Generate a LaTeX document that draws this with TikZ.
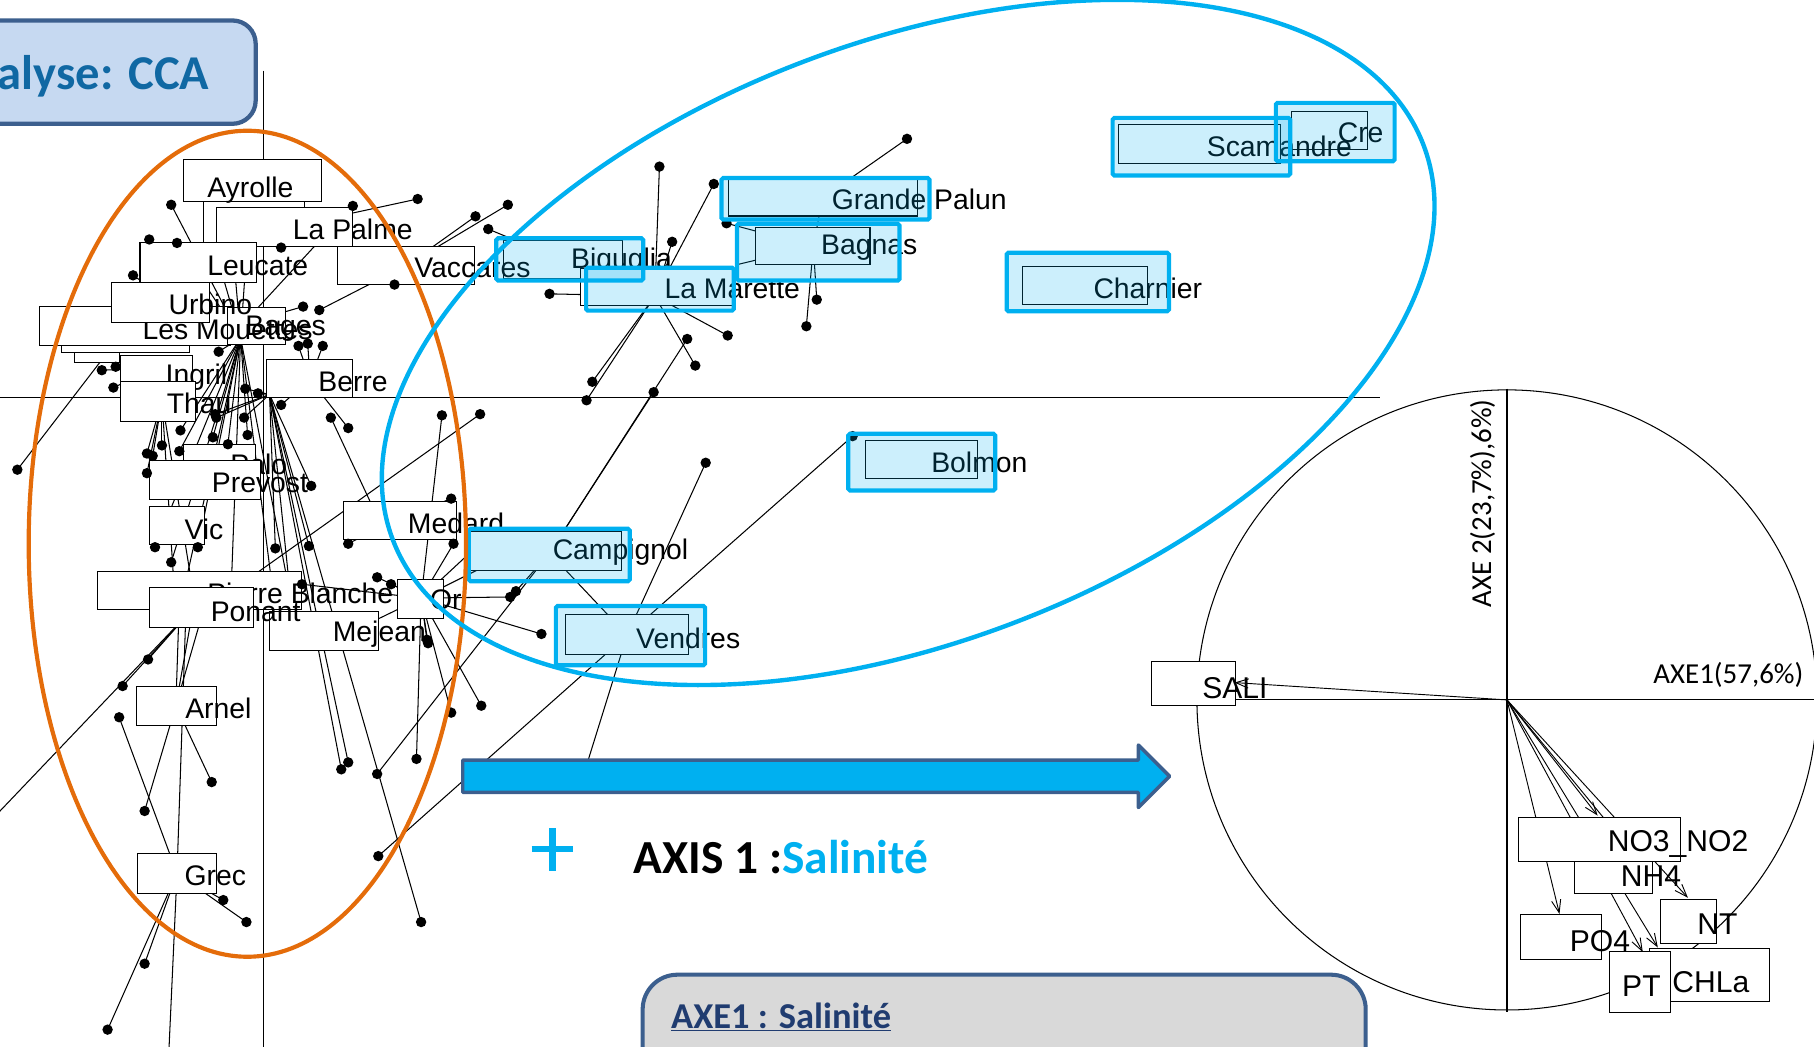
\documentclass[tikz,border=0pt]{standalone}
\usepackage{fontspec}
\usetikzlibrary{arrows.meta}
\newfontfamily\lsans{Liberation Sans}
\newfontfamily\carl{Carlito}
\definecolor{skyb}{HTML}{00B0F0}
\definecolor{orng}{HTML}{E46C0A}
\definecolor{frameblue}{HTML}{3C5F8E}
\definecolor{titlefill}{HTML}{C6D9F1}
\definecolor{titleink}{HTML}{1068A3}
\definecolor{panelgrey}{HTML}{D9D9D9}
\definecolor{navyink}{HTML}{203C70}

% label box, label text, highlight frame
\newcommand\lbx[4]{\draw[lbox] (#1,#2) rectangle (#3,#4);}
\newcommand\ltx[4]{\node[lbl] (#1) at (#2,#3) {#4};}
\newcommand\cbx[4]{\draw[lbox] (#1,#2) rectangle (#3,#4);}
\newcommand\ctx[4]{\node[cbl] (#1) at (#2,#3) {#4};}
\newcommand\hlt[4]{\draw[hilite] (#1,#2) rectangle (#3,#4);}

% site centre -> sample point (x,y)
\def\samplelist{C2/148/177, C2/129/207, C2/153/210, Urb/115/238, LP/361/172, LP/305/178, LP/243/214,
 Vac/411/187, Vac/439/177, Vac/341/246, Vac/276/268, Bag/262/265,
 Ber/258/299, Ber/266/297, Ber/279/299, Ber/301/370, Ber/243/350,
 C1/212/336, C1/223/340, C1/187/361, C1/186/358, C1/211/361, C1/269/420, C1/295/665, C1/301/659,
 C1/238/474, C1/267/472, C1/364/797,
 C2/189/304, C2/156/372, C2/184/378, C2/214/376, C2/197/384, C2/155/390, C2/134/473, C2/171/473, C2/148/486,
 Thau/127/392, Thau/132/394, Thau/140/385, Thau/127/409,
 LM/15/406, Ing/88/320, Ing/100/317, Ing/98/335, Pon/106/593, Pon/128/570,
 Arn/183/676, Arn/125/701, Grec/103/620, Grec/125/833, Grec/93/890, Grec/193/778, Grec/213/797,
 Med/286/361, Med/390/431, Med/301/470,
 Or/382/359, Or/392/470, Or/326/499, Or/338/505, Or/441/516, Or/468/548, Or/416/610, Or/390/616,
 Or/369/553, Or/370/556, Or/360/656, Or/261/505,
 Camp/594/293, Camp/565/339, Camp/446/511, Camp/326/669, Ven/610/400, Ven/737/377, Ven/327/740,
 LMar/512/330, LMar/507/346, LMar/601/316, LMar/629/290, LMar/475/254, LMar/570/144, LMar/617/159, LMar/581/209,
 Big/422/198, Bagn/706/259, Bagn/697/282, Bagn/628/193, GP/784/120, PB/415/358}
% segments whose far end lies under a label
\def\hiddenlist{Bag/280/204, C2/200/200, C2/215/190, C2/190/230, C2/160/505, C2/200/505, C2/235/505, C2/248/500,
 C1/250/505, Thau/150/500, Thau/165/500, Pon/-20/722, Grec/161/520, Grec/145/930,
 Arn/155/520, Arn/168/520, Arn/178/520, Or/300/548, Or/420/465, Or/430/484, Ven/505/668, Bagn/636/229}

\begin{document}
\begin{tikzpicture}[x=1pt,y=-1pt,
  link/.style={line width=0.9pt},
  lbox/.style={draw=black,line width=0.9pt,fill=white},
  lbl/.style={font=\lsans\fontsize{24.5}{29}\selectfont,inner sep=0pt,anchor=base west},
  cbl/.style={font=\lsans\fontsize{26}{30}\selectfont,inner sep=0pt,anchor=base west},
  axl/.style={font=\carl\fontsize{25}{30}\selectfont,inner sep=0pt,anchor=base west},
  hilite/.style={draw=skyb,line width=3.6pt,fill=skyb,fill opacity=0.2,rounded corners=1.5pt},
  vec/.style={line width=0.8pt,-{Straight Barb[length=11pt,width=8pt]}},
]
\useasboundingbox (0,0) rectangle (1568,905);
\clip (0,0) rectangle (1568,905);

% ---------- factorial plane: axes ----------
\draw[line width=0.9pt] (228,61) -- (228,905);
\draw[line width=0.9pt] (0,343.5) -- (1193,343.5);

% ---------- site centres ----------
\coordinate (hC1) at (233,341);
\coordinate (hC2) at (208,292);
\coordinate (hLP) at (250,196);
\coordinate (hVac) at (352,229);
\coordinate (hUrb) at (150,262);
\coordinate (hBag) at (210,280);
\coordinate (hLM) at (108,285);
\coordinate (hIng) at (135,318);
\coordinate (hThau) at (140,346);
\coordinate (hBer) at (268,328);
\coordinate (hPB) at (190,518);
\coordinate (hPon) at (165,528);
\coordinate (hArn) at (152,610);
\coordinate (hGrec) at (153,755);
\coordinate (hMed) at (330,455);
\coordinate (hOr) at (364,517);
\coordinate (hBig) at (487,225);
\coordinate (hLMar) at (566,256);
\coordinate (hGP) at (711,171);
\coordinate (hBagn) at (703,213);
\coordinate (hCamp) at (475,478);
\coordinate (hVen) at (542,549);

% ---------- star segments ----------
\foreach \h/\x/\y in \samplelist {\coordinate (s) at (\x,\y); \draw[link] (h\h) -- (s);}
\foreach \h/\x/\y in \hiddenlist {\coordinate (s) at (\x,\y); \draw[link] (h\h) -- (s);}
\draw[link] (hCamp) -- (hVen);
\draw[link] (hGP) -- (hBagn);

% ---------- site labels ----------
\lbx{176}{165}{263}{212}
\lbx{159}{138}{278}{174} \ltx{tAyr}{179}{171}{Ayrolle}
\lbx{187}{179}{305}{213} \ltx{tLP}{253}{207}{La Palme}
\lbx{435}{208}{538}{240.6} \ltx{tBig}{493.5}{232}{Biguglia}
\lbx{292}{213}{410}{246} \ltx{tVac}{358}{240}{Vaccares}
\lbx{121}{210}{222}{244} \ltx{tLeu}{179}{238.5}{Leucate}
\lbx{53}{299}{164}{305}
\lbx{64}{305}{103}{313}
\lbx{34}{265}{199}{298.5}
\lbx{197}{266}{247}{298}
\ltx{tLM}{123}{293.5}{Les Mouettes}
\ltx{tBag}{212}{290}{Bages}
\lbx{96}{244}{181}{279} \ltx{tUrb}{145.5}{272}{Urbino}
\lbx{104}{307}{166}{330} \ltx{tIng}{143}{332}{Ingril}
\lbx{104}{330}{169}{364} \ltx{tThau}{144}{357}{Thau}
\lbx{230.5}{311}{304.5}{344} \ltx{tBer}{275}{338.5}{Berre}
\lbx{159}{384}{221}{400} \ltx{tPalo}{199}{410}{Palo}
\lbx{129}{398}{225}{432} \ltx{tPrev}{183}{426}{Prevost}
\lbx{129}{438}{177}{471} \ltx{tVic}{159.3}{466}{Vic}
\lbx{233}{528.6}{327}{562.3} \ltx{tMej}{287.5}{554.6}{Mejean}
\lbx{84.4}{494}{260.2}{527} \ltx{tPB}{179}{521.4}{Pierre Blanche}
\lbx{129}{508}{219}{542} \ltx{tPon}{182}{537.3}{Ponant}
\lbx{296.7}{433.6}{394.7}{466.2} \ltx{tMed}{352.4}{461}{Medard}
\lbx{343.7}{500.7}{383.2}{534.4} \ltx{tOr}{371.6}{527.2}{Or}
\lbx{118}{593.5}{187}{627.5} \ltx{tArn}{160}{621}{Arnel}
\lbx{119}{738}{187}{772} \ltx{tGrec}{159.3}{765}{Grec}
\lbx{502.1}{232.4}{633.3}{264.2} \ltx{tLMar}{574.2}{257.8}{La Marette}
\lbx{629.6}{155}{792.9}{186.7} \ltx{tGP}{718.8}{181.5}{Grande Palun}
\lbx{653.4}{196.4}{752}{229} \ltx{tBagn}{709.6}{220.4}{Bagnas}
\lbx{1116.3}{96.5}{1181.7}{129.6}
\lbx{966.5}{107.5}{1107.2}{141.7}
\ltx{tCre}{1156.2}{123.3}{Cre}
\ltx{tScam}{1043}{135.4}{Scamandre}
\lbx{883.9}{230.5}{991.6}{263} \ltx{tChar}{945}{257.8}{Charnier}
\lbx{748.5}{380.9}{845}{413.7} \ltx{tBol}{804.8}{408.5}{Bolmon}
\lbx{404.5}{459.5}{537.2}{493.2} \ltx{tCamp}{477.6}{484}{Campignol}
\lbx{488.8}{531.5}{595.2}{566.1} \ltx{tVen}{549.7}{560.4}{Vendres}

% ---------- sample points ----------
\foreach \h/\x/\y in \samplelist {\fill (\x,\y) circle[radius=4.5pt];}

% ---------- highlighted sites ----------
\hlt{429}{206}{556}{242.5}
\hlt{506.6}{231.4}{634.3}{268.5}
\hlt{623.6}{153.9}{803.5}{189.8}
\hlt{637}{193.4}{777.5}{242.5}
\hlt{961.7}{101.9}{1115.2}{151.7}
\hlt{1102.8}{88.9}{1205.5}{139.4}
\hlt{870.2}{218.4}{1010.4}{269.1}
\hlt{733.2}{374.9}{860.2}{424}
\hlt{405.3}{457}{544.3}{502.4}
\hlt{480.5}{523.8}{609.5}{575}

% ---------- groups ----------
\draw[orng,line width=3.6pt] (213.8,470) ellipse[x radius=189, y radius=357];
\draw[skyb,line width=3.8pt,rotate around={21:(785,296)}] (785,296) ellipse[x radius=477, y radius=259];

% ---------- title ----------
\draw[frameblue,line width=3.7pt,fill=titlefill,rounded corners=20pt] (-40,17.7) rectangle (221,107);
\node[font=\carl\bfseries\fontsize{42}{50}\selectfont,text=titleink,inner sep=0pt,anchor=base east] (title) at (181,77) {Analyse: CCA};

% ---------- correlation circle ----------
\coordinate (cc) at (1302.6,605);
\draw[line width=0.9pt] (cc) circle[radius=268pt];
\draw[line width=0.9pt] (1302.6,336) -- (1302.6,875);
\draw[line width=0.9pt] (1034,605) -- (1568,605);
\node[axl,rotate=90] (ax2) at (1289,525) {AXE 2(23,7\%),6\%)};
\node[axl] (ax1) at (1429,591) {AXE1(57,6\%)};
\foreach \x/\y in {1067/590, 1381/705, 1348/790, 1459/776, 1420/823, 1433/819, 1428/758}
  {\coordinate (v) at (\x,\y); \draw[vec] (cc) -- (v);}
\cbx{995.5}{572}{1068}{610} \ctx{vSALI}{1039}{604}{SALI}
\cbx{1361}{735}{1428.4}{772.2} \ctx{vNH}{1400.9}{766.7}{NH4}
\cbx{1312.3}{706.4}{1452.6}{744.6} \ctx{vNO}{1389.6}{735.8}{NO3\_NO2}
\cbx{1314.2}{790.6}{1383.9}{829.1} \ctx{vPO}{1356.8}{822.8}{PO4}
\cbx{1435.6}{777.7}{1483.8}{815.6} \ctx{vNT}{1466.9}{808}{NT}
\cbx{1425.4}{820}{1529.1}{865.9} \ctx{vCHL}{1445.4}{857.8}{CHLa}
\cbx{1391.5}{822.8}{1444.3}{875.1} \ctx{vPT}{1402}{861.5}{PT}

% ---------- block arrow and caption ----------
\draw[frameblue,line width=3pt,fill=skyb,line join=round]
  (400,657) -- (984,657) -- (984,644) -- (1011,671) -- (984,698) -- (984,685) -- (400,685) -- cycle;
\draw[skyb,line width=5.5pt] (459.6,734) -- (495.3,734);
\draw[skyb,line width=5.5pt] (477.5,716) -- (477.5,752.5);
\node[font=\carl\bfseries\fontsize{41}{49}\selectfont,inner sep=0pt,anchor=base west] (axis) at (547.6,755)
  {AXIS 1 :\textcolor{skyb}{Salinité}};

% ---------- bottom panel ----------
\draw[frameblue,line width=3.5pt,fill=panelgrey,rounded corners=30pt] (555.5,842.5) rectangle (1180.5,960);
\node[font=\carl\bfseries\fontsize{31.5}{37}\selectfont,text=navyink,inner sep=0pt,anchor=base west] (axe1) at (580,889)
  {\underline{AXE1 : Salinité}};
\end{tikzpicture}
\end{document}
